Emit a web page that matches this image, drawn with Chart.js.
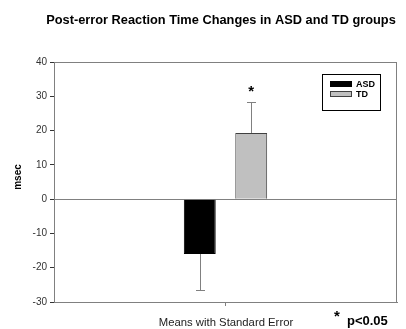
<!DOCTYPE html>
<html>
<head>
<meta charset="utf-8">
<script src="https://cdn.jsdelivr.net/npm/chart.js@4/dist/chart.umd.min.js"></script>
<style>
  html, body { margin: 0; padding: 0; background: #fff; }
  #wrap { width: 406px; height: 329px; }
</style>
</head>
<body>
<div id="wrap"><canvas id="rtChart" width="406" height="329"></canvas></div>
<script>
// data
const categories = [''];
const groups = ['ASD', 'TD'];
const means = [-16, 19.3];
const stdErrors = [10.5, 9];
const significant = [false, true];
const yMin = -30, yMax = 40, yStep = 10;

const barColors = ['#000000', '#c0c0c0'];
const barBorders = ['#000000', '#404040'];

const FONT = "'Liberation Sans', Arial, sans-serif";

// error bars (outer whisker only) + significance star
const errorBars = {
    id: 'errorBars',
    afterDatasetsDraw(chart) {
        const { ctx } = chart;
        const y = chart.scales.y;
        ctx.save();
        chart.data.datasets.forEach((ds, i) => {
            const bar = chart.getDatasetMeta(i).data[0];
            const m = means[i];
            const end = m < 0 ? m - stdErrors[i] : m + stdErrors[i];
            const y0 = y.getPixelForValue(m);
            const y1 = y.getPixelForValue(end);
            ctx.strokeStyle = '#808080';
            ctx.lineWidth = 1;
            ctx.beginPath();
            ctx.moveTo(Math.round(bar.x) + 0.5, y0);
            ctx.lineTo(Math.round(bar.x) + 0.5, y1);
            ctx.moveTo(Math.round(bar.x) - 4, Math.round(y1) + 0.5);
            ctx.lineTo(Math.round(bar.x) + 5, Math.round(y1) + 0.5);
            ctx.stroke();
            if (significant[i]) {
                ctx.fillStyle = '#000';
                ctx.font = 'bold 15px ' + FONT;
                ctx.textAlign = 'center';
                ctx.textBaseline = 'middle';
                ctx.fillText('*', bar.x, y1 - 10);
            }
        });
        ctx.restore();
    }
};

// plot box, legend box and the loose texts
const decorations = {
    id: 'decorations',
    beforeDatasetsDraw(chart) {
        const { ctx, chartArea: a } = chart;
        ctx.save();
        ctx.strokeStyle = '#808080';
        ctx.lineWidth = 1;
        ctx.strokeRect(Math.round(a.left) + 0.5, Math.round(a.top) + 0.5,
            Math.round(a.right - a.left) - 1, Math.round(a.bottom - a.top));
        ctx.restore();
    },
    afterDraw(chart) {
        const { ctx } = chart;
        ctx.save();

        // legend box
        const lx = 322, ly = 74, lw = 58, lh = 36;
        ctx.fillStyle = '#fff';
        ctx.fillRect(lx, ly, lw, lh);
        ctx.strokeStyle = '#000';
        ctx.lineWidth = 1;
        ctx.strokeRect(lx + 0.5, ly + 0.5, lw, lh);
        ctx.font = 'bold 9px ' + FONT;
        ctx.textBaseline = 'middle';
        ctx.textAlign = 'left';
        groups.forEach((g, i) => {
            const sy = ly + 10 + i * 10;
            ctx.fillStyle = barColors[i];
            ctx.fillRect(lx + 8, sy - 3, 22, 6);
            ctx.strokeStyle = barBorders[i];
            ctx.strokeRect(lx + 8.5, sy - 2.5, 21, 5);
            ctx.fillStyle = '#000';
            ctx.fillText(g, lx + 34, sy + 0.5);
        });

        // title
        ctx.fillStyle = '#000';
        ctx.textAlign = 'center';
        ctx.font = 'bold 12.8px ' + FONT;
        ctx.fillText('Post-error Reaction Time Changes in ASD and TD groups', 221, 20);

        // y title
        ctx.save();
        ctx.translate(18, 177);
        ctx.rotate(-Math.PI / 2);
        ctx.font = 'bold 10px ' + FONT;
        ctx.fillText('msec', 0, 0);
        ctx.restore();

        // footnotes
        ctx.font = '11.3px ' + FONT;
        ctx.fillStyle = '#222';
        ctx.fillText('Means with Standard Error', 226, 323);
        ctx.fillStyle = '#000';
        ctx.font = 'bold 15px ' + FONT;
        ctx.fillText('*', 337, 317);
        ctx.font = 'bold 13px ' + FONT;
        ctx.textAlign = 'left';
        ctx.fillText('p<0.05', 347, 321);

        ctx.restore();
    }
};

new Chart(document.getElementById('rtChart'), {
    type: 'bar',
    data: {
        labels: categories,
        datasets: groups.map((g, i) => ({
            label: g,
            data: [means[i]],
            backgroundColor: barColors[i],
            borderColor: barBorders[i],
            borderWidth: 1,
            categoryPercentage: 0.30,
            barPercentage: 0.62
        }))
    },
    options: {
        responsive: false,
        animation: false,
        devicePixelRatio: 1,
        layout: { padding: { left: 0, top: 62, right: 9, bottom: 0 } },
        plugins: {
            legend: { display: false },
            tooltip: { enabled: false }
        },
        scales: {
            x: {
                grid: { display: true, drawOnChartArea: false, offset: false, tickLength: 4, color: '#808080' },
                border: { display: true, color: '#808080' },
                ticks: { display: false },
                afterFit(s) { s.height = 27; }
            },
            y: {
                min: yMin,
                max: yMax,
                ticks: {
                    stepSize: yStep,
                    color: '#333',
                    padding: 3,
                    font: { family: FONT, size: 10 }
                },
                grid: {
                    color: c => c.tick && c.tick.value === 0 ? '#808080' : 'rgba(0,0,0,0)',
                    tickColor: '#333',
                    tickLength: 4
                },
                border: { display: true, color: '#222' },
                afterFit(s) { s.width = 54; }
            }
        }
    },
    plugins: [decorations, errorBars]
});
</script>
</body>
</html>
